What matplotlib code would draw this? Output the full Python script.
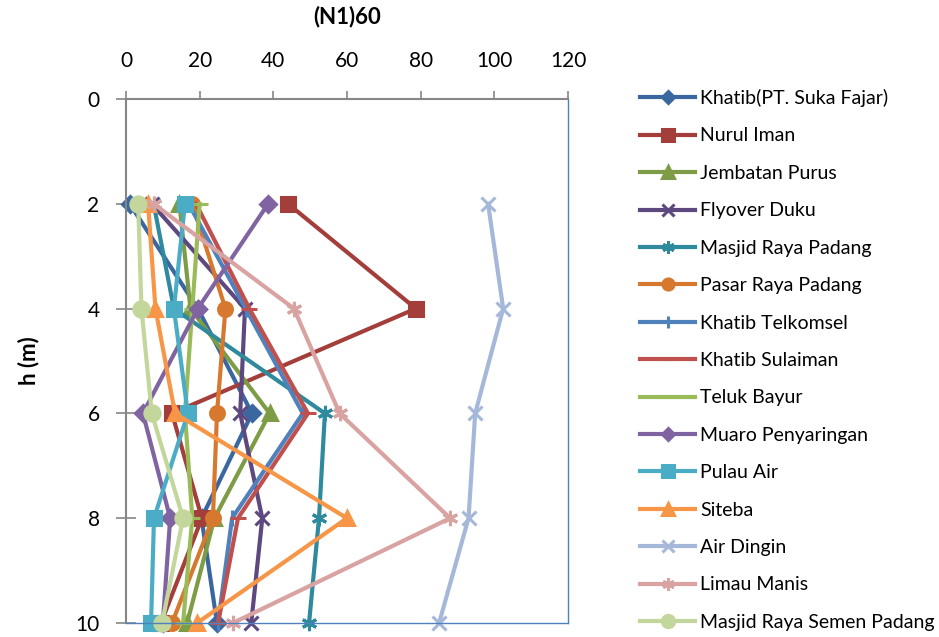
import matplotlib
matplotlib.use('Agg')
import matplotlib.pyplot as plt

# depth (m)
depth = [2, 4, 6, 8, 10]

# (N1)60 values for every site
khatib_suka_fajar = [1.0, 19.5, 34.2, 20.5, 24.7]
nurul_iman = [44.0, 78.7, 12.5, 20.6, 9.5]
jembatan_purus = [14.5, 17.5, 39.0, 24.0, 16.6]
flyover_duku = [7.0, 32.3, 31.0, 37.0, 34.0]
masjid_raya_padang = [7.5, 13.0, 54.0, 52.4, 49.7]
pasar_raya_padang = [18.0, 27.0, 24.7, 23.6, 12.5]
khatib_telkomsel = [17.0, 32.5, 48.0, 28.8, 25.0]
khatib_sulaiman = [19.0, 33.5, 49.4, 30.4, 25.0]
teluk_bayur = [20.0, 18.0, 16.0, 18.0, 15.5]
muaro_penyaringan = [38.6, 19.5, 4.6, 12.0, 10.0]
pulau_air = [16.0, 13.0, 16.8, 7.6, 6.8]
siteba = [6.0, 8.0, 13.3, 60.0, 19.3]
air_dingin = [98.3, 102.4, 94.8, 93.0, 85.0]
limau_manis = [7.5, 45.6, 58.0, 88.0, 29.0]
semen_padang = [3.3, 4.2, 7.0, 15.5, 9.8]

names = ['Khatib(PT. Suka Fajar)', 'Nurul Iman', 'Jembatan Purus', 'Flyover Duku',
         'Masjid Raya Padang', 'Pasar Raya Padang', 'Khatib Telkomsel',
         'Khatib Sulaiman', 'Teluk Bayur', 'Muaro Penyaringan', 'Pulau Air',
         'Siteba', 'Air Dingin', 'Limau Manis', 'Masjid Raya Semen Padang']
series = [khatib_suka_fajar, nurul_iman, jembatan_purus, flyover_duku,
          masjid_raya_padang, pasar_raya_padang, khatib_telkomsel,
          khatib_sulaiman, teluk_bayur, muaro_penyaringan, pulau_air,
          siteba, air_dingin, limau_manis, semen_padang]

colors = ['#3A67A0', '#A33E3B', '#7D9C45', '#5E4880', '#2F8A9E', '#D6792F',
          '#4F81BD', '#C0504D', '#9BBB59', '#8064A2', '#4BACC6', '#F79646',
          '#A5B8DA', '#D9A3A2', '#C3D69B']
asterisk = (6, 2, 0)
markers = ['D', 's', '^', 'x', asterisk, 'o', '|', '_', '_', 'D', 's', '^',
           'x', asterisk, 'o']
msizes = [8, 10, 10, 10, 11, 10, 11, 11, 12, 8, 10, 10, 10, 11, 11]

plt.rcParams['font.family'] = ['Lato', 'DejaVu Sans']

fig = plt.figure(figsize=(9.39, 6.37), dpi=100)
ax = fig.add_axes([126/939, 14/637, 442/939, 524/637])

for name, vals, c, m, ms in zip(names, series, colors, markers, msizes):
    ax.plot(vals, depth, color=c, lw=3, marker=m, ms=ms, mew=2.2,
            mfc=c, mec=c, label=name, clip_on=False)

ax.set_xlim(0, 120)
ax.set_ylim(10, 0)
ax.set_xticks(range(0, 121, 20))
ax.set_yticks(range(0, 11, 2))
ax.xaxis.tick_top()
ax.xaxis.set_label_position('top')
ax.tick_params(axis='x', direction='out', length=6, width=1.2, color='#868686',
               labelsize=15, pad=14)
ax.tick_params(axis='y', direction='inout', length=14, width=1.2, color='#868686',
               labelsize=15, pad=12)
ax.set_xlabel('(N1)60', fontsize=16, fontweight='bold', labelpad=20)
ax.set_ylabel('h (m)', fontsize=16, fontweight='bold', labelpad=26)

for s in ['left', 'top']:
    ax.spines[s].set_color('#868686')
    ax.spines[s].set_linewidth(1.5)
for s in ['right', 'bottom']:
    ax.spines[s].set_color('#4F81BD')
    ax.spines[s].set_linewidth(1.0)

fig.legend(loc='upper left', bbox_to_anchor=(640/939, 1 - 89/637), frameon=False,
           fontsize=14, handlelength=2.85, handletextpad=0.25, labelspacing=1.05,
           borderaxespad=0, borderpad=0, markerscale=0.8)

fig.savefig('out.png', dpi=100)
